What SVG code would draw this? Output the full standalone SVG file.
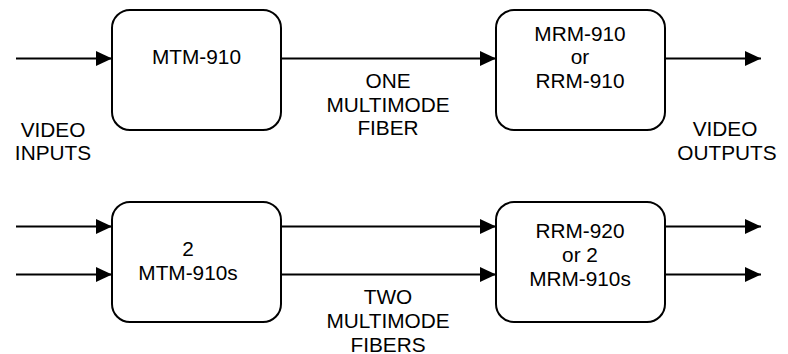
<svg xmlns="http://www.w3.org/2000/svg" width="788" height="354" viewBox="0 0 788 354">
<defs>
<marker id="arr" markerWidth="17" markerHeight="16" refX="16" refY="8" orient="auto" markerUnits="userSpaceOnUse">
<path d="M0,0.5 L16,8 L0,15.5 z" fill="#000"/>
</marker>
<style>
.box{fill:#fff;stroke:#000;stroke-width:2}
.ln{fill:none;stroke:#000;stroke-width:2;marker-end:url(#arr)}
text{font-family:"Liberation Sans",Arial,sans-serif;font-size:20.8px;fill:#000;text-anchor:middle}
</style>
</defs>
<rect width="788" height="354" fill="#fff"/>
<g id="connectors">
<line class="ln" x1="16" y1="58.5" x2="112" y2="58.5"/>
<line class="ln" x1="281" y1="58.5" x2="496" y2="58.5"/>
<line class="ln" x1="665" y1="58.5" x2="761" y2="58.5"/>
<line class="ln" x1="16" y1="226.5" x2="112" y2="226.5"/>
<line class="ln" x1="16" y1="274.5" x2="112" y2="274.5"/>
<line class="ln" x1="281" y1="226.5" x2="496" y2="226.5"/>
<line class="ln" x1="281" y1="274.5" x2="496" y2="274.5"/>
<line class="ln" x1="665" y1="226.5" x2="761" y2="226.5"/>
<line class="ln" x1="665" y1="274.5" x2="761" y2="274.5"/>
</g>
<g id="mtm910">
<rect class="box" x="112" y="10" width="169" height="120" rx="18"/>
<text x="196.5" y="64">MTM-910</text>
</g>
<g id="mrm910">
<rect class="box" x="496" y="10" width="169" height="120" rx="18"/>
<text x="580" y="40.5">MRM-910</text>
<text x="580" y="64">or</text>
<text x="580" y="88">RRM-910</text>
</g>
<g id="mtm910s">
<rect class="box" x="112" y="202" width="169" height="120" rx="18"/>
<text x="188" y="255.5">2</text>
<text x="188" y="280">MTM-910s</text>
</g>
<g id="rrm920">
<rect class="box" x="496" y="202" width="169" height="120" rx="18"/>
<text x="580" y="238">RRM-920</text>
<text x="580" y="262">or 2</text>
<text x="580" y="286">MRM-910s</text>
</g>
<g id="labels">
<text x="53" y="136.5">VIDEO</text>
<text x="53" y="159.5">INPUTS</text>
<text x="388" y="87.5">ONE</text>
<text x="388" y="111.5">MULTIMODE</text>
<text x="388" y="135">FIBER</text>
<text x="725" y="136">VIDEO</text>
<text x="727" y="159.5">OUTPUTS</text>
<text x="388" y="303.5">TWO</text>
<text x="388" y="327.5">MULTIMODE</text>
<text x="388" y="351.5">FIBERS</text>
</g>
</svg>
